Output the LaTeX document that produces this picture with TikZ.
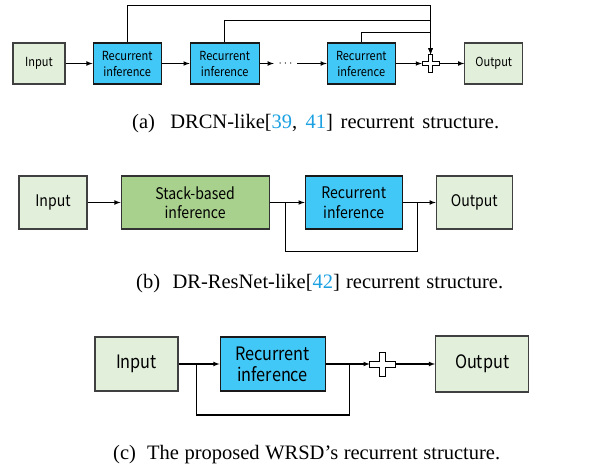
\documentclass[tikz,border=0pt]{standalone}
\usepackage{fontspec}
\setmainfont{Liberation Serif}
\newfontfamily\boxfont[FakeStretch=0.88]{Noto Sans CJK SC}
\usetikzlibrary{arrows, positioning, calc}

\definecolor{iogreen}{HTML}{E2EFDA}
\definecolor{stackgreen}{HTML}{A9D18E}
\definecolor{reccyan}{HTML}{41C8F7}
\definecolor{citeblue}{HTML}{1BA1E2}

% outlined plus sign: centre node, half width, half height, half arm thickness
\newcommand{\plusmark}[4]{%
  \draw[fill=white, line width=0.9pt, shift={(#1)}]
    (-#2,-#4) -- (-#4,-#4) -- (-#4,-#3) -- (#4,-#3) -- (#4,-#4) -- (#2,-#4)
    -- (#2,#4) -- (#4,#4) -- (#4,#3) -- (-#4,#3) -- (-#4,#4) -- (-#2,#4) -- cycle;}

\begin{document}
\begin{tikzpicture}[x=1pt, y=-1pt, node distance = 27pt]
\tikzstyle{io} = [rectangle, draw = black!75, fill = iogreen, line width = 1.1pt, align = center, inner sep = 0pt]
\tikzstyle{rec} = [rectangle, draw = black!90, fill = reccyan, line width = 1.1pt, align = center, inner sep = 0pt]
\tikzstyle{stack} = [rectangle, draw = black!80, fill = stackgreen, line width = 1.1pt, align = center, inner sep = 0pt]
\tikzstyle{sum} = [rectangle, inner sep = 0pt]
\tikzstyle{connect} = [-latex, line width = 1.1pt]
\tikzstyle{line} = [line width = 1.1pt]
\tikzstyle{captext} = [anchor = base west, inner sep = 0pt, font = \fontsize{20.5}{24}\selectfont]
\tikzstyle{fa} = [font = \boxfont\fontsize{12.5}{16}\selectfont]
\tikzstyle{fb} = [font = \boxfont\fontsize{16}{19.5}\selectfont]
\tikzstyle{fc} = [font = \boxfont\fontsize{18.5}{21}\selectfont]
\useasboundingbox (0,0) rectangle (615,474);

% (a) DRCN-like
  \node[io, fa, minimum width = 52pt, minimum height = 41pt] (inA) at (39,63.5) {Input};
  \node[rec, fa, minimum width = 68pt, minimum height = 41pt, right = 27pt of inA] (recA1) {Recurrent\\inference};
  \node[rec, fa, minimum width = 69pt, minimum height = 41pt, right = 28pt of recA1] (recA2) {Recurrent\\inference};
  \node[rec, fa, minimum width = 68pt, minimum height = 41pt, right = 67pt of recA2] (recA3) {Recurrent\\inference};
  \node[fa, inner sep = 0pt, minimum width = 23pt] (dotsA) at (285.5,63.5) {$\cdots$};
  \node[sum, minimum width = 17pt, minimum height = 18pt, right = 26pt of recA3] (sumA) {};
  \node[io, fa, minimum width = 58pt, minimum height = 41pt, right = 25pt of sumA] (outA) {Output};
  \plusmark{sumA}{8.5}{9}{2}
\path (inA) edge [connect] (recA1) (recA1) edge [connect] (recA2)
      (recA2) edge [connect] (dotsA) (dotsA) edge [connect] (recA3)
      (recA3) edge [connect] (sumA) (sumA) edge [connect] (outA);
\draw[connect] (recA1.north) -- ++(0,-37) -| (sumA.north);
\draw[connect] (recA2.north) -- ++(0,-22) -| (sumA.north);
\draw[connect] (recA3.north) -- ++(0,-10) -| (sumA.north);
  \node[captext] (capA) at (132,128) {\makebox[367pt][s]{(a)\ \ DRCN-like[\textcolor{citeblue}{39}, \textcolor{citeblue}{41}] recurrent structure.}};

% (b) DR-ResNet-like
  \node[io, fb, minimum width = 68pt, minimum height = 53pt] (inB) at (53,202.5) {Input};
  \node[stack, fb, minimum width = 148pt, minimum height = 53pt, right = 33pt of inB] (stackB) {Stack-based\\inference};
  \node[rec, fb, minimum width = 97pt, minimum height = 53pt, right = 35pt of stackB] (recB) {Recurrent\\inference};
  \node[io, fb, minimum width = 76pt, minimum height = 53pt, right = 33pt of recB] (outB) {Output};
\path (inB) edge [connect] (stackB) (stackB) edge [connect] (recB) (recB) edge [connect] (outB);
  \coordinate (splitB) at ($(recB.east)!0.45!(outB.west)$);
  \coordinate (joinB) at ($(stackB.east)!0.46!(recB.west)$);
\draw[line] (splitB) -- ++(0,49) -| (joinB);
  \node[captext] (capB) at (136,288) {\makebox[367pt][s]{(b)\ \ DR-ResNet-like[\textcolor{citeblue}{42}] recurrent structure.}};

% (c) WRSD
  \node[io, fc, minimum width = 83pt, minimum height = 54pt] (inC) at (136.5,364) {Input};
  \node[rec, fc, minimum width = 105pt, minimum height = 54pt, right = 41pt of inC] (recC) {Recurrent\\inference};
  \node[sum, minimum width = 26pt, minimum height = 24pt, right = 44pt of recC] (sumC) {};
  \node[io, fc, minimum width = 93pt, minimum height = 56pt, right = 39pt of sumC] (outC) {Output};
  \plusmark{sumC}{13}{12}{3}
\path (inC) edge [connect] (recC) (recC) edge [connect] (sumC) (sumC) edge [connect] (outC);
  \coordinate (splitC) at ($(recC.east)!0.54!(sumC.west)$);
  \coordinate (joinC) at ($(inC.east)!0.43!(recC.west)$);
\draw[line] (splitC) -- ++(0,51) -| (joinC);
  \node[captext] (capC) at (113,459) {\makebox[387pt][s]{(c)\ \ The proposed WRSD's recurrent structure.}};
\end{tikzpicture}
\end{document}
